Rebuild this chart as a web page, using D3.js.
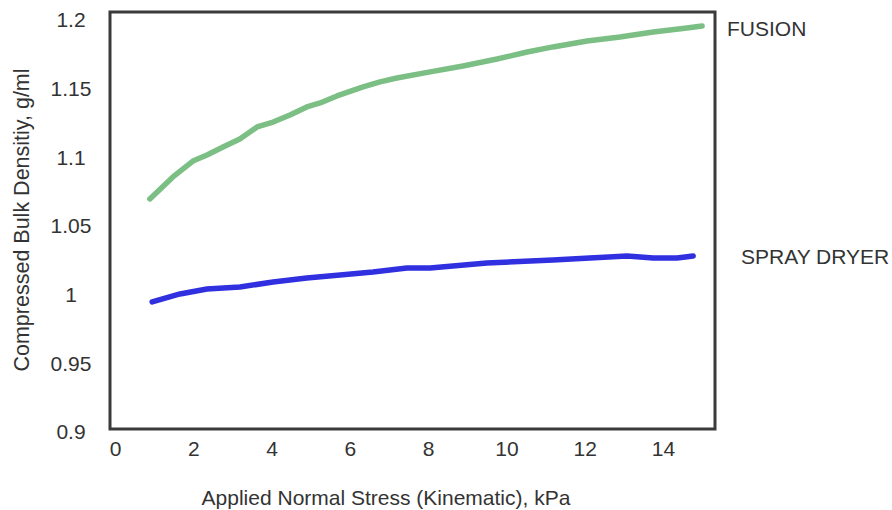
<!DOCTYPE html>
<html>
<head>
<meta charset="utf-8">
<style>
  body { margin: 0; background: #fff; }
  #chart text { font-family: 'Liberation Sans', Arial, sans-serif; fill: #333; }
</style>
</head>
<body>
<div id="chart"></div>
<script src="https://d3js.org/d3.v7.min.js"></script>
<script>
  // values
  var fusionX = [0.89, 1.48, 1.99, 2.35, 2.76, 3.19, 3.63, 4.04, 4.47, 4.90, 5.24, 5.67, 6.34, 6.77, 7.20, 8.05, 8.89, 9.76, 10.53, 11.19, 12.06, 12.90, 13.75, 14.61, 15.00];
  var fusionY = [1.0697, 1.0857, 1.0973, 1.1017, 1.1075, 1.1134, 1.1221, 1.1257, 1.1308, 1.1367, 1.1396, 1.1447, 1.1513, 1.1549, 1.1578, 1.1622, 1.1665, 1.1716, 1.1767, 1.1804, 1.1847, 1.1876, 1.1913, 1.1942, 1.1956];
  var sprayX = [0.95, 1.66, 2.35, 3.19, 4.04, 4.90, 5.75, 6.59, 7.46, 8.05, 9.50, 11.19, 13.08, 13.75, 14.36, 14.77];
  var sprayY = [0.9947, 1.0005, 1.0041, 1.0056, 1.0092, 1.0121, 1.0143, 1.0165, 1.0194, 1.0194, 1.0231, 1.0252, 1.0282, 1.0267, 1.0267, 1.0282];
  var xTicks = [0, 2, 4, 6, 8, 10, 12, 14];
  var yTicks = [0.9, 0.95, 1, 1.05, 1.1, 1.15, 1.2];

  var width = 892, height = 510;
  var svg = d3.select("#chart").append("svg").attr("width", width).attr("height", height);

  var x = d3.scaleLinear().domain([0, 14]).range([115, 663]);
  var y = d3.scaleLinear().domain([0.9, 1.2]).range([432, 20]);

  // frame
  svg.append("rect")
    .attr("x", 110).attr("y", 12)
    .attr("width", 605).attr("height", 417)
    .attr("fill", "none")
    .attr("stroke", "#3a3a3a")
    .attr("stroke-width", 3);

  // x tick labels
  var xAxis = svg.append("g")
    .attr("transform", "translate(0,441)")
    .call(d3.axisBottom(x).tickValues(xTicks).tickSize(0).tickPadding(0).tickFormat(d3.format("")));
  xAxis.select(".domain").remove();
  xAxis.selectAll("text").attr("font-size", 21).attr("dy", "0.7em");

  // y tick labels
  var yAxis = svg.append("g")
    .attr("transform", "translate(71,0)")
    .call(d3.axisLeft(y).tickValues(yTicks).tickSize(0).tickPadding(0).tickFormat(function(d) { return String(+d.toFixed(2)); }));
  yAxis.select(".domain").remove();
  yAxis.selectAll("text").attr("font-size", 21).attr("text-anchor", "middle").attr("x", 0);

  // lines
  var line = d3.line()
    .x(function(d) { return x(d[0]); })
    .y(function(d) { return y(d[1]); });

  svg.append("path")
    .datum(d3.zip(fusionX, fusionY))
    .attr("d", line)
    .attr("fill", "none")
    .attr("stroke", "#7cbf84")
    .attr("stroke-width", 5.5)
    .attr("stroke-linecap", "round")
    .attr("stroke-linejoin", "round");

  svg.append("path")
    .datum(d3.zip(sprayX, sprayY))
    .attr("d", line)
    .attr("fill", "none")
    .attr("stroke", "#3030e0")
    .attr("stroke-width", 5.5)
    .attr("stroke-linecap", "round")
    .attr("stroke-linejoin", "round");

  // series labels
  svg.append("text").attr("x", 727).attr("y", 36).attr("font-size", 21).text("FUSION");
  svg.append("text").attr("x", 741).attr("y", 264).attr("font-size", 21).text("SPRAY DRYER");

  // axis titles
  svg.append("text")
    .attr("x", 386).attr("y", 505)
    .attr("text-anchor", "middle")
    .attr("font-size", 21)
    .text("Applied Normal Stress (Kinematic), kPa");

  svg.append("text")
    .attr("transform", "translate(29,220) rotate(-90)")
    .attr("text-anchor", "middle")
    .attr("font-size", 21.5)
    .text("Compressed Bulk Densitiy, g/ml");
</script>
</body>
</html>
